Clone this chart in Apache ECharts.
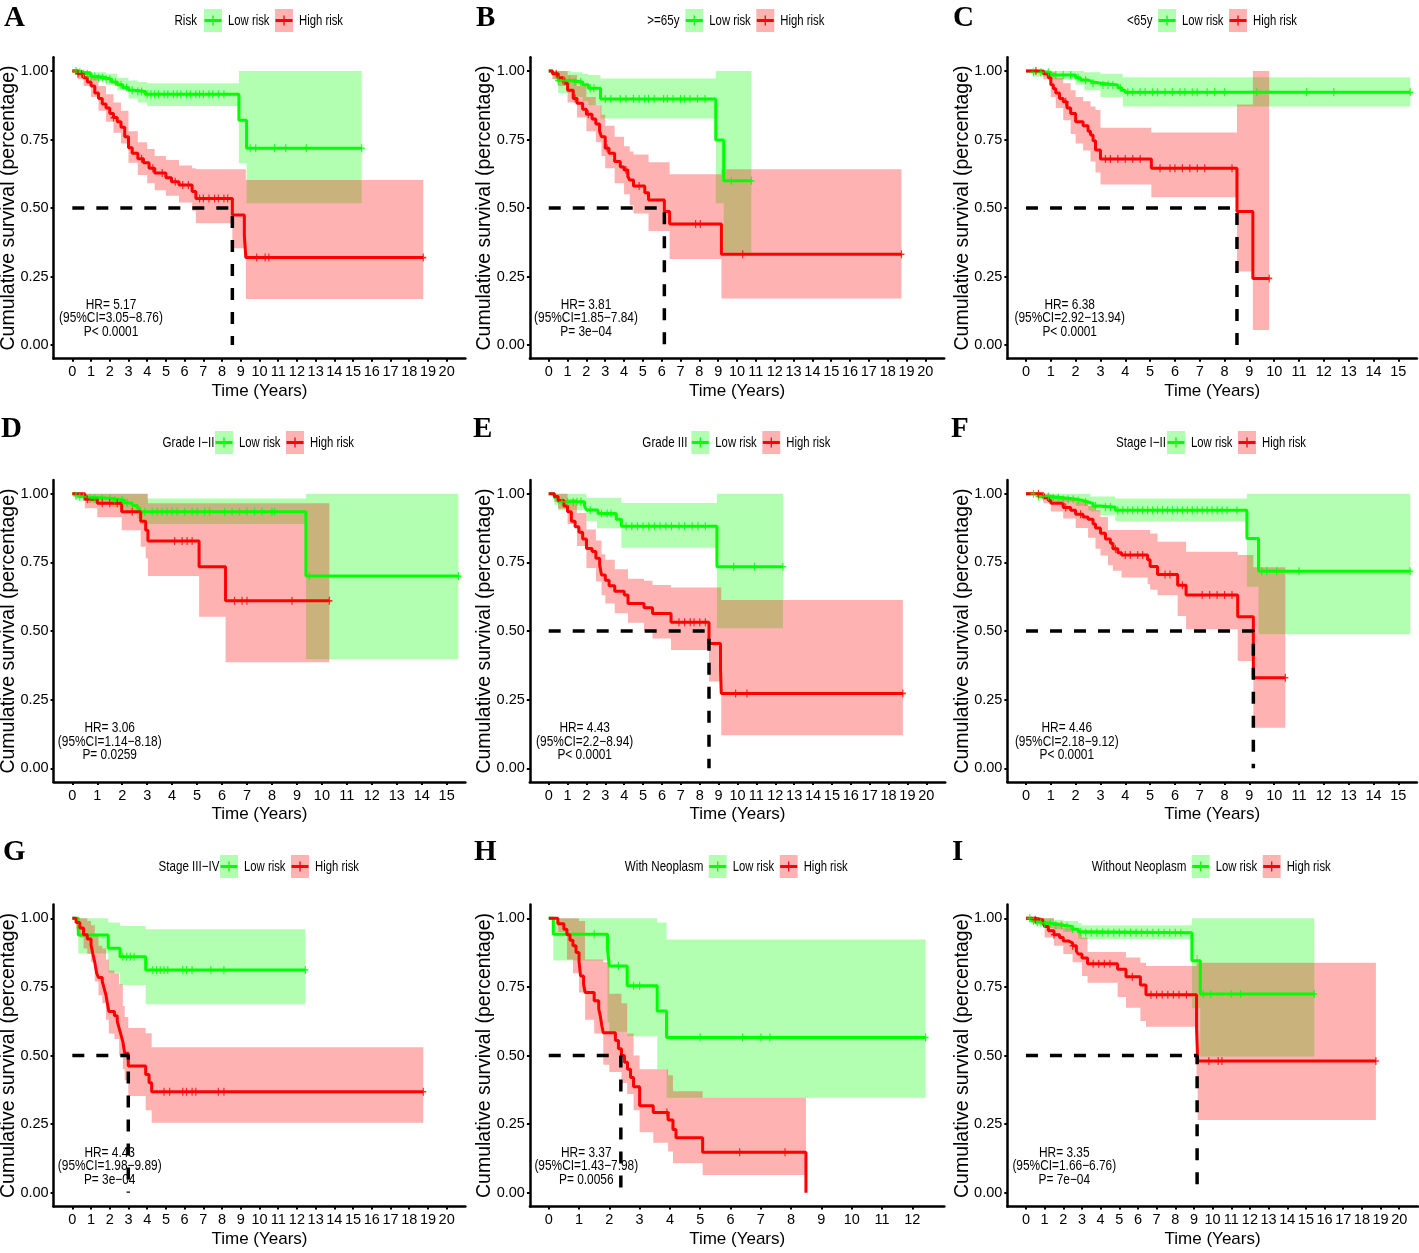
<!DOCTYPE html>
<html><head><meta charset="utf-8">
<script src="https://cdn.jsdelivr.net/npm/echarts@6/dist/echarts.min.js"></script>
<style>html,body{margin:0;padding:0;background:#fff}#c{width:1419px;height:1253px}</style>
</head><body><div id="c"></div>
<script>
// ---------------- DATA ----------------
const panelKeys = ['A','B','C','D','E','F','G','H','I'];
const legendTitles = ['Risk','>=65y','<65y','Grade I\u2212II','Grade III','Stage I\u2212II','Stage III\u2212IV','With Neoplasm','Without Neoplasm'];
const groupNames = ['Low risk','High risk'];
const hrLines = [
 ['HR= 5.17','(95%CI=3.05\u22128.76)','P< 0.0001'],
 ['HR= 3.81','(95%CI=1.85\u22127.84)','P= 3e\u221204'],
 ['HR= 6.38','(95%CI=2.92\u221213.94)','P< 0.0001'],
 ['HR= 3.06','(95%CI=1.14\u22128.18)','P= 0.0259'],
 ['HR= 4.43','(95%CI=2.2\u22128.94)','P< 0.0001'],
 ['HR= 4.46','(95%CI=2.18\u22129.12)','P< 0.0001'],
 ['HR= 4.43','(95%CI=1.98\u22129.89)','P= 3e\u221204'],
 ['HR= 3.37','(95%CI=1.43\u22127.98)','P= 0.0056'],
 ['HR= 3.35','(95%CI=1.66\u22126.76)','P= 7e\u221204']
];
const medians = [8.55, 6.14, 8.5, null, 8.49, 9.16, 2.99, 2.38, 9.17];
const xTicks20 = [0,1,2,3,4,5,6,7,8,9,10,11,12,13,14,15,16,17,18,19,20];
const xTicks15 = [0,1,2,3,4,5,6,7,8,9,10,11,12,13,14,15];
const xTicks12 = [0,1,2,3,4,5,6,7,8,9,10,11,12];
const yTicks = [0,0.25,0.5,0.75,1];

// Panel A (Risk)
const A_low = [[0,1],[0.3,0.995],[0.6,0.99],[1.0,0.98],[1.4,0.975],[1.8,0.97],[2.1,0.96],[2.4,0.95],[2.7,0.94],[3.0,0.93],[3.3,0.925],[3.9,0.915],[8.9,0.82],[9.31,0.718],[15.46,0.718]];
const A_lowCI = [[0,1,1],[0.3,0.985,1],[1.0,0.965,0.995],[1.8,0.95,0.99],[2.4,0.93,0.975],[3.0,0.9,0.965],[3.5,0.885,0.96],[4.0,0.872,0.955],[8.9,0.663,1],[9.31,0.517,1],[15.46,0.517,1]];
const A_high = [[0,1],[0.3,0.99],[0.6,0.975],[0.8,0.96],[1.0,0.945],[1.2,0.92],[1.4,0.9],[1.6,0.88],[1.8,0.865],[2.0,0.845],[2.2,0.83],[2.4,0.815],[2.6,0.795],[2.8,0.76],[3.0,0.72],[3.2,0.7],[3.5,0.68],[3.8,0.665],[4.1,0.645],[4.4,0.628],[5.0,0.61],[5.3,0.596],[5.7,0.584],[6.4,0.56],[6.6,0.535],[8.55,0.474],[9.19,0.4],[9.27,0.319],[18.75,0.319]];
const A_highCI = [[0,1,1],[0.3,0.97,1],[0.6,0.945,1],[1.0,0.905,0.98],[1.4,0.855,0.945],[1.8,0.815,0.915],[2.2,0.775,0.885],[2.6,0.735,0.855],[3.0,0.665,0.78],[3.5,0.62,0.74],[4.0,0.59,0.715],[4.4,0.565,0.69],[5.0,0.545,0.675],[5.7,0.52,0.655],[6.4,0.49,0.645],[6.6,0.444,0.641],[8.55,0.353,0.641],[9.27,0.168,0.602],[18.75,0.168,0.602]];
const A_lowCens = [0.2,0.4,0.6,0.8,1.0,1.2,1.4,1.6,1.8,2.0,2.3,2.6,2.9,3.2,3.5,3.7,4.0,4.2,4.4,4.6,4.9,5.1,5.4,5.6,5.8,6.1,6.3,6.6,6.8,7.0,7.3,7.5,7.8,8.1,9.5,9.8,10.8,11.4,12.5,15.46];
const A_highCens = [0.3,0.5,2.2,3.7,4.3,4.8,5.5,5.9,6.2,6.8,7.0,7.3,7.6,7.8,8.1,8.3,9.85,10.3,10.5,18.75];

// Panel B (>=65y)
const B_low = [[0,1],[0.2,0.99],[0.5,0.965],[1.2,0.96],[1.8,0.95],[2.1,0.937],[2.75,0.898],[8.87,0.748],[9.29,0.599],[10.76,0.599]];
const B_lowCI = [[0,1,1],[0.2,0.97,1],[0.5,0.92,1],[1.2,0.905,0.995],[1.8,0.89,0.99],[2.1,0.875,0.985],[2.75,0.827,0.973],[8.87,0.517,1],[9.29,0.337,1],[10.76,0.337,1]];
const B_high = [[0,1],[0.2,0.99],[0.5,0.975],[0.8,0.955],[1.0,0.93],[1.3,0.9],[1.5,0.882],[1.8,0.86],[2.0,0.842],[2.3,0.825],[2.5,0.807],[2.7,0.78],[2.8,0.76],[3.0,0.718],[3.2,0.7],[3.5,0.67],[3.8,0.65],[4.0,0.639],[4.2,0.615],[4.3,0.602],[4.5,0.58],[5.1,0.556],[5.3,0.529],[6.14,0.487],[6.42,0.442],[9.17,0.331],[18.73,0.331]];
const B_highCI = [[0,1,1],[0.2,0.97,1],[0.5,0.945,1],[1.0,0.885,0.985],[1.5,0.83,0.945],[2.0,0.78,0.905],[2.5,0.74,0.875],[2.8,0.69,0.84],[3.0,0.645,0.8],[3.5,0.59,0.76],[4.0,0.55,0.725],[4.3,0.51,0.706],[4.5,0.48,0.695],[5.3,0.416,0.667],[6.42,0.314,0.623],[9.17,0.17,0.641],[18.73,0.17,0.641]];
const B_lowCens = [0.5,0.8,1.1,1.4,1.7,2.2,2.4,3.0,3.3,3.8,4.1,4.5,4.8,5.1,5.3,5.6,6.1,6.3,6.6,7.0,7.2,7.5,7.9,8.3,9.7,10.76];
const B_highCens = [0.4,1.4,2.1,3.1,4.1,4.8,7.8,8.05,10.3,18.73];

// Panel C (<65y)
const C_low = [[0,1],[0.3,0.995],[1.0,0.985],[2.0,0.975],[2.2,0.967],[2.5,0.96],[2.7,0.955],[3.0,0.949],[3.7,0.939],[3.85,0.93],[3.99,0.922],[15.48,0.922]];
const C_lowCI = [[0,1,1],[0.3,0.98,1],[1.0,0.968,1],[2.0,0.95,1],[2.35,0.93,0.995],[3.0,0.905,0.99],[3.9,0.87,0.977],[15.48,0.87,0.977]];
const C_high = [[0,1],[0.7,0.99],[0.9,0.975],[1.0,0.95],[1.1,0.935],[1.2,0.92],[1.35,0.9],[1.5,0.888],[1.65,0.865],[1.8,0.845],[2.0,0.815],[2.3,0.8],[2.5,0.78],[2.6,0.766],[2.7,0.745],[2.8,0.712],[3.0,0.679],[5.05,0.645],[8.5,0.487],[9.14,0.243],[9.8,0.243]];
const C_highCI = [[0,1,1],[0.7,0.97,1],[1.0,0.905,0.995],[1.2,0.865,0.975],[1.5,0.82,0.955],[1.8,0.77,0.93],[2.0,0.735,0.905],[2.3,0.71,0.89],[2.6,0.67,0.87],[2.8,0.63,0.858],[3.0,0.586,0.793],[5.05,0.539,0.776],[8.5,0.268,0.878],[9.14,0.055,1],[9.8,0.055,1]];
const C_lowCens = [0.3,0.6,0.9,1.2,1.5,1.8,2.1,2.4,2.7,3.1,3.3,3.5,3.8,4.1,4.3,4.6,4.8,5.1,5.3,5.6,5.9,6.2,6.4,6.7,6.9,7.3,7.6,8.0,9.3,11.3,12.4,15.48];
const C_highCens = [0.4,1.6,3.2,3.4,3.7,4.0,4.3,4.6,5.4,5.8,6.0,6.3,6.6,6.9,7.2,8.3,9.8];

// Panel D (Grade I-II)
const D_low = [[0,1],[0.1,0.993],[0.3,0.988],[0.6,0.983],[1.6,0.976],[2.1,0.966],[2.4,0.957],[2.6,0.947],[2.7,0.934],[9.36,0.7],[15.47,0.7]];
const D_lowCI = [[0,1,1],[0.1,0.98,1],[0.6,0.965,1],[1.6,0.95,1],[2.1,0.935,1],[2.6,0.91,1],[2.7,0.89,1],[3.0,0.89,0.983],[9.36,0.397,1],[15.47,0.397,1]];
const D_high = [[0,1],[0.5,0.98],[1.0,0.965],[1.98,0.934],[2.74,0.9],[2.94,0.867],[3.03,0.828],[5.08,0.734],[6.14,0.61],[10.3,0.61]];
const D_highCI = [[0,1,1],[0.5,0.947,1],[1.0,0.914,1],[1.98,0.867,1],[2.74,0.807,1],[2.94,0.765,1],[3.03,0.7,0.965],[5.08,0.552,0.965],[6.14,0.386,0.965],[10.3,0.386,0.965]];
const D_lowCens = [0.15,0.3,0.45,0.7,0.9,1.2,1.5,1.7,2.0,2.2,2.9,3.2,3.4,3.6,3.8,4.0,4.2,4.5,4.8,5.0,5.3,5.5,6.1,6.4,6.7,7.0,7.3,7.6,8.0,8.1,9.5,15.47];
const D_highCens = [0.6,1.2,1.5,1.8,2.4,4.1,4.4,4.6,4.8,6.5,6.8,7.0,8.8,10.3];

// Panel E (Grade III)
const E_low = [[0,1],[0.3,0.985],[0.5,0.971],[1.9,0.955],[2.0,0.941],[2.61,0.928],[3.58,0.907],[3.85,0.882],[8.91,0.734],[12.41,0.734]];
const E_lowCI = [[0,1,1],[0.3,0.96,1],[0.5,0.94,1],[2.0,0.9,0.985],[2.56,0.874,0.985],[3.85,0.803,0.966],[8.91,0.51,1],[12.41,0.51,1]];
const E_high = [[0,1],[0.3,0.99],[0.5,0.975],[0.8,0.955],[1.0,0.934],[1.2,0.9],[1.4,0.88],[1.6,0.86],[1.8,0.835],[2.0,0.801],[2.3,0.79],[2.5,0.765],[2.7,0.74],[2.8,0.704],[3.0,0.685],[3.2,0.665],[3.5,0.645],[4.0,0.631],[4.2,0.6],[5.05,0.585],[5.5,0.564],[6.48,0.532],[8.49,0.455],[9.1,0.36],[9.14,0.273],[18.76,0.273]];
const E_highCI = [[0,1,1],[0.3,0.97,1],[0.5,0.945,1],[1.0,0.89,0.98],[1.5,0.81,0.93],[2.0,0.73,0.87],[2.5,0.68,0.83],[2.8,0.63,0.78],[3.0,0.6,0.76],[3.5,0.565,0.725],[4.2,0.53,0.69],[5.05,0.5,0.683],[5.5,0.473,0.668],[6.48,0.431,0.659],[8.49,0.316,0.659],[9.14,0.121,0.613],[18.76,0.121,0.613]];
const E_lowCens = [0.7,1.0,1.3,1.5,1.7,2.2,2.8,3.1,3.3,4.1,4.4,4.7,5.0,5.3,5.6,5.9,6.2,6.5,6.9,7.2,7.6,7.9,8.3,9.8,10.9,12.41];
const E_highCens = [6.9,7.2,7.5,7.7,8.0,8.3,9.9,10.5,18.76];

// Panel F (Stage I-II)
const F_low = [[0,1],[0.5,0.99],[1.0,0.985],[1.5,0.98],[2.0,0.975],[2.3,0.97],[2.5,0.965],[2.7,0.955],[3.0,0.951],[3.6,0.94],[8.9,0.837],[9.37,0.718],[15.48,0.718]];
const F_lowCI = [[0,1,1],[0.5,0.98,1],[1.0,0.97,1],[2.0,0.955,1],[2.5,0.94,1],[2.6,0.935,0.99],[3.0,0.922,0.99],[3.6,0.9,0.983],[8.9,0.661,1],[9.37,0.488,1],[15.48,0.488,1]];
const F_high = [[0,1],[0.7,0.985],[0.9,0.975],[1.0,0.965],[1.5,0.95],[1.8,0.94],[2.0,0.925],[2.3,0.915],[2.5,0.907],[2.7,0.89],[2.8,0.875],[3.0,0.856],[3.2,0.835],[3.4,0.82],[3.5,0.8],[3.7,0.785],[3.85,0.777],[4.9,0.76],[5.0,0.735],[5.3,0.706],[6.11,0.667],[6.45,0.631],[8.53,0.552],[9.16,0.33],[10.45,0.33]];
const F_highCI = [[0,1,1],[0.7,0.965,1],[1.0,0.935,0.99],[1.5,0.91,0.985],[2.0,0.875,0.97],[2.5,0.84,0.955],[2.8,0.8,0.94],[3.0,0.775,0.915],[3.3,0.74,0.868],[3.5,0.72,0.868],[3.85,0.695,0.868],[4.9,0.67,0.868],[5.0,0.65,0.855],[5.3,0.63,0.825],[6.11,0.555,0.825],[6.45,0.507,0.789],[8.53,0.391,0.777],[9.16,0.148,0.732],[10.45,0.148,0.732]];
const F_lowCens = [0.3,0.5,0.7,0.9,1.1,1.3,1.5,1.7,1.9,2.1,2.4,2.8,3.2,3.4,3.7,3.9,4.1,4.3,4.5,4.7,4.9,5.1,5.3,5.5,5.7,5.9,6.1,6.3,6.5,6.7,6.9,7.1,7.3,7.5,7.7,7.9,8.1,8.5,9.5,9.7,10.1,11.0,15.48];
const F_highCens = [0.5,1.6,2.2,3.6,4.0,4.2,4.5,4.7,5.6,5.8,6.3,7.1,7.4,7.7,8.0,8.3,10.45];

// Panel G (Stage III-IV)
const G_low = [[0,1],[0.32,0.939],[1.92,0.891],[2.55,0.86],[3.92,0.812],[12.45,0.812]];
const G_lowCI = [[0,1,1],[0.32,0.872,1],[1.92,0.802,0.985],[2.55,0.757,0.972],[3.92,0.687,0.96],[12.45,0.687,0.96]];
const G_high = [[0,1],[0.2,0.985],[0.4,0.965],[0.6,0.94],[0.8,0.925],[1.0,0.903],[1.1,0.87],[1.2,0.84],[1.3,0.8],[1.4,0.784],[1.6,0.77],[1.7,0.745],[1.8,0.72],[1.85,0.7],[1.95,0.66],[2.25,0.645],[2.4,0.625],[2.5,0.6],[2.6,0.575],[2.7,0.55],[2.8,0.508],[2.99,0.462],[3.92,0.431],[4.1,0.401],[4.24,0.368],[18.75,0.368]];
const G_highCI = [[0,1,1],[0.2,0.96,1],[0.4,0.93,1],[0.6,0.89,1],[0.8,0.87,0.99],[1.0,0.84,0.975],[1.2,0.77,0.94],[1.4,0.72,0.9],[1.6,0.69,0.89],[1.8,0.63,0.85],[1.95,0.58,0.81],[2.25,0.56,0.8],[2.5,0.5,0.76],[2.7,0.45,0.68],[2.8,0.41,0.64],[2.99,0.352,0.6],[3.92,0.3,0.581],[4.24,0.255,0.53],[18.75,0.255,0.53]];
const G_lowCens = [2.7,2.9,3.1,3.3,4.3,4.5,4.7,4.9,5.1,5.9,6.1,6.4,7.4,8.1,12.45];
const G_highCens = [4.9,5.2,5.9,6.1,6.4,6.6,7.8,8.1,18.75];

// Panel H (With Neoplasm)
const H_low = [[0,1],[0.15,0.942],[1.94,0.888],[2.0,0.826],[2.59,0.754],[3.58,0.662],[3.89,0.566],[12.44,0.566]];
const H_lowCI = [[0,1,1],[0.15,0.846,1],[1.94,0.62,1],[2.0,0.587,1],[2.59,0.57,1],[3.58,0.45,0.985],[3.89,0.346,0.923],[12.44,0.346,0.923]];
const H_high = [[0,1],[0.3,0.98],[0.5,0.96],[0.6,0.94],[0.7,0.92],[0.8,0.9],[0.9,0.875],[1.0,0.842],[1.05,0.79],[1.15,0.76],[1.2,0.73],[1.5,0.7],[1.65,0.67],[1.7,0.645],[1.75,0.61],[1.8,0.583],[2.2,0.555],[2.3,0.525],[2.4,0.5],[2.5,0.475],[2.6,0.45],[2.7,0.42],[2.8,0.386],[3.0,0.317],[3.45,0.292],[3.94,0.265],[4.1,0.23],[4.2,0.2],[5.08,0.147],[8.49,0]];
const H_highCI = [[0,1,1],[0.3,0.95,1],[0.6,0.85,1],[0.8,0.8,1],[1.0,0.73,0.99],[1.2,0.63,0.85],[1.5,0.58,0.85],[1.8,0.466,0.84],[2.0,0.44,0.725],[2.4,0.4,0.69],[2.59,0.36,0.58],[2.8,0.3,0.5],[3.0,0.22,0.45],[3.45,0.182,0.45],[3.94,0.15,0.428],[4.1,0.107,0.37],[5.08,0.064,0.346],[8.49,0.064,0.346]];
const H_lowCens = [1.5,2.3,2.8,3.0,5.0,6.4,7.0,7.3,12.44];
const H_highCens = [3.9,6.3,7.8];

// Panel I (Without Neoplasm)
const I_low = [[0,1],[0.3,0.99],[0.5,0.985],[1.0,0.98],[1.5,0.975],[2.0,0.97],[2.5,0.96],[2.8,0.951],[3.0,0.947],[8.89,0.845],[9.34,0.724],[15.45,0.724]];
const I_lowCI = [[0,1,1],[0.5,0.975,1],[1.0,0.965,1],[1.5,0.96,0.995],[2.0,0.95,0.99],[2.8,0.925,0.982],[3.0,0.924,0.975],[8.89,0.672,1],[9.34,0.496,1],[15.45,0.496,1]];
const I_high = [[0,1],[0.5,0.995],[0.9,0.985],[1.0,0.97],[1.2,0.955],[1.5,0.94],[1.8,0.93],[2.0,0.917],[2.3,0.91],[2.5,0.9],[2.7,0.88],[2.8,0.87],[3.0,0.855],[3.3,0.834],[4.91,0.814],[5.36,0.787],[6.13,0.757],[6.43,0.721],[9.14,0.599],[9.2,0.48],[18.75,0.48]];
const I_highCI = [[0,1,1],[0.5,0.98,1],[1.0,0.93,1],[1.5,0.9,0.985],[2.0,0.87,0.965],[2.5,0.84,0.95],[3.0,0.79,0.93],[3.3,0.765,0.877],[4.91,0.713,0.877],[5.36,0.674,0.857],[6.13,0.626,0.838],[6.43,0.605,0.826],[9.14,0.4,0.866],[9.2,0.265,0.838],[18.75,0.265,0.838]];
const I_lowCens = [0.2,0.4,0.6,0.8,1.0,1.3,1.6,1.9,2.2,2.5,2.9,3.2,3.5,3.8,4.1,4.4,4.7,5.0,5.3,5.6,5.9,6.2,6.5,6.8,7.1,7.4,7.7,8.0,8.3,9.5,9.9,11.0,11.5,15.45];
const I_highCens = [0.5,1.5,2.5,3.6,3.9,4.2,4.5,5.7,6.7,7.0,7.3,7.6,7.9,8.2,8.6,9.8,10.3,10.5,18.75];

// ---------------- LAYOUT (positions/sizes only) ----------------
const layout = [
 {l:53.6, t:57.3, w:411.8, h:301.4, xmin:-1, xmax:21, ticks:xTicks20},
 {l:529.9,t:57.3, w:414.3, h:301.4, xmin:-1, xmax:21, ticks:xTicks20},
 {l:1007.4,t:57.3,w:409.5, h:301.4, xmin:-0.75, xmax:15.75, ticks:xTicks15},
 {l:53.6, t:480,  w:411.8, h:302.1, xmin:-0.75, xmax:15.75, ticks:xTicks15},
 {l:529.8,t:480,  w:415.4, h:302.1, xmin:-1, xmax:21, ticks:xTicks20},
 {l:1007.4,t:480, w:409.5, h:302.1, xmin:-0.75, xmax:15.75, ticks:xTicks15},
 {l:53.6, t:904.6,w:411.8, h:301.8, xmin:-1, xmax:21, ticks:xTicks20},
 {l:529.9,t:904.6,w:414.5, h:301.8, xmin:-0.622, xmax:13.06, ticks:xTicks12},
 {l:1007.3,t:904.6,w:410.6,h:301.8, xmin:-1, xmax:21, ticks:xTicks20}
];
const legendPos = [
 {gx:204, te:197, y:9}, {gx:685.3, te:679.5, y:9}, {gx:1158, te:1152.5, y:9},
 {gx:215, te:214.5, y:431}, {gx:691.3, te:687.5, y:431}, {gx:1167, te:1166, y:431},
 {gx:220, te:219.5, y:855}, {gx:708.7, te:703.5, y:855}, {gx:1191.7, te:1186.5, y:855}
];
const letterPos = [[4,18],[476,18],[953,18],[1,429],[473,429],[951,429],[3,852],[474,852],[952,852]];
const hrPos = [[111,304.7],[586,304.7],[1069.7,304.7],[109.7,728.3],[584.7,728.3],[1066.8,728.3],[109.7,1152.7],[586.3,1152.7],[1064.3,1152.7]];

const curves = {A:[A_low,A_high,A_lowCI,A_highCI,A_lowCens,A_highCens],B:[B_low,B_high,B_lowCI,B_highCI,B_lowCens,B_highCens],C:[C_low,C_high,C_lowCI,C_highCI,C_lowCens,C_highCens],D:[D_low,D_high,D_lowCI,D_highCI,D_lowCens,D_highCens],E:[E_low,E_high,E_lowCI,E_highCI,E_lowCens,E_highCens],F:[F_low,F_high,F_lowCI,F_highCI,F_lowCens,F_highCens],G:[G_low,G_high,G_lowCI,G_highCI,G_lowCens,G_highCens],H:[H_low,H_high,H_lowCI,H_highCI,H_lowCens,H_highCens],I:[I_low,I_high,I_lowCI,I_highCI,I_lowCens,I_highCens]};

// ---------------- BUILD ----------------
const FA = '"Liberation Sans",Arial,Helvetica,sans-serif';
const FS = '"Liberation Serif","Times New Roman",serif';
const GREEN = '#00FF00', RED = '#FF0000';
const GBAND = 'rgba(0,255,0,0.3)', RBAND = 'rgba(255,0,0,0.3)';
const PLUS = 'path://M4,0H6V4H10V6H6V10H4V6H0V4H4Z';

function stepAt(curve, t){ let v = curve[0][1]; for (const p of curve){ if (p[0] <= t) v = p[1]; else break; } return v; }

// step ribbon drawn as one polygon through the axis scales
function ribbonRenderer(color){
  return function(params, api){
    if (params.dataIndexInside !== 0) return null;
    const n = params.dataInsideLength;
    const up = [], lo = [];
    for (let j = 0; j < n; j++){
      const x = api.value(0, j), l = api.value(1, j), h = api.value(2, j);
      const xn = j < n - 1 ? api.value(0, j + 1) : x;
      up.push(api.coord([x, h]), api.coord([xn, h]));
      lo.push(api.coord([x, l]), api.coord([xn, l]));
    }
    const pts = up.concat(lo.reverse());
    return {type:'polygon', shape:{points:pts}, style:{fill:color}, silent:true};
  };
}

// horizontally condensed text (the original figure uses a narrow face)
function ntext(x, y, text, size, sx, align){
  return {type:'text', x:x, y:y, scaleX:sx, style:{x:0, y:0, text:text, font:size+'px '+FA, fill:'#000', align:align, verticalAlign:'middle'}};
}

const grids = [], xAxes = [], yAxes = [], series = [], graphics = [];
panelKeys.forEach((k, i) => {
  const L = layout[i];
  const [low, high, lowCI, highCI, lowC, highC] = curves[k];
  grids.push({left:L.l, top:L.t, width:L.w, height:L.h, containLabel:false, outerBoundsMode:'none'});
  xAxes.push({gridIndex:i, type:'value', min:L.xmin, max:L.xmax,
    name:'Time (Years)', nameLocation:'middle', nameGap:24, nameMoveOverlap:false,
    nameTextStyle:{fontFamily:FA, fontSize:17, color:'#000'},
    axisLine:{onZero:false, lineStyle:{color:'#000', width:2.5}},
    axisTick:{customValues:L.ticks, length:3, lineStyle:{color:'#000', width:2}},
    axisLabel:{customValues:L.ticks, margin:6, fontFamily:FA, fontSize:14.5, color:'#000'},
    splitLine:{show:false}});
  yAxes.push({gridIndex:i, type:'value', min:-0.05, max:1.05,
    name:'Cumulative survival (percentage)', nameLocation:'middle', nameGap:35, nameMoveOverlap:false,
    nameTextStyle:{fontFamily:FA, fontSize:19.5, color:'#000'},
    axisLine:{onZero:false, lineStyle:{color:'#000', width:2.5}},
    axisTick:{customValues:yTicks, length:3, lineStyle:{color:'#000', width:2}},
    axisLabel:{customValues:yTicks, margin:5, fontFamily:FA, fontSize:14.5, color:'#000', formatter:v=>Number(v).toFixed(2)},
    splitLine:{show:false}});
  const base = {xAxisIndex:i, yAxisIndex:i, silent:true, animation:false};
  [[lowCI, GBAND], [highCI, RBAND]].forEach(([ci, col]) => {
    series.push(Object.assign({type:'custom', renderItem:ribbonRenderer(col), encode:{x:0, y:[1,2]}, data:ci, z:1, clip:true}, base));
  });
  [[low, GREEN], [high, RED]].forEach(([c, col]) => {
    series.push(Object.assign({type:'line', step:'end', symbol:'none', lineStyle:{color:col, width:3}, data:c, z:3}, base));
  });
  [[lowC, low, GREEN], [highC, high, RED]].forEach(([cs, c, col]) => {
    series.push(Object.assign({type:'scatter', symbol:PLUS, symbolSize:[6,8], itemStyle:{color:col},
      data:cs.map(t => [t, stepAt(c, t)]), z:4}, base));
  });
  if (medians[i] != null) {
    const m = medians[i];
    series.push(Object.assign({type:'line', symbol:'none', lineStyle:{color:'#000', width:3.5, type:[12,12]},
      data:[[0,0.5],[m,0.5],[m,0]], z:5}, base));
  }
  // panel letter
  graphics.push({type:'text', left:letterPos[i][0], top:letterPos[i][1]-14, style:{text:k, font:'bold 29px '+FS, fill:'#000'}});
  // legend
  const P = legendPos[i];
  graphics.push(ntext(P.te, P.y+11.5, legendTitles[i], 14.5, 0.8, 'right'));
  [[P.gx, GBAND, GREEN, groupNames[0]], [P.gx+71, RBAND, RED, groupNames[1]]].forEach(([x, bcol, lcol, txt]) => {
    graphics.push({type:'rect', shape:{x:x, y:P.y, width:18, height:23}, style:{fill:bcol}});
    graphics.push({type:'line', shape:{x1:x+0.5, y1:P.y+11.5, x2:x+17.5, y2:P.y+11.5}, style:{stroke:lcol, lineWidth:3}});
    graphics.push({type:'line', shape:{x1:x+9, y1:P.y+6.5, x2:x+9, y2:P.y+16.5}, style:{stroke:lcol, lineWidth:1.3}});
    graphics.push(ntext(x+24, P.y+11.5, txt, 14.5, 0.78, 'left'));
  });
  // HR annotation
  hrLines[i].forEach((s, j) => {
    graphics.push(ntext(hrPos[i][0], hrPos[i][1] + j*13.5, s, 14.5, 0.82, 'center'));
  });
});

const chart = echarts.init(document.getElementById('c'), null, {renderer:'canvas'});
chart.setOption({backgroundColor:'#fff', animation:false, grid:grids, xAxis:xAxes, yAxis:yAxes, series:series, graphic:{elements:graphics}});
</script></body></html>
